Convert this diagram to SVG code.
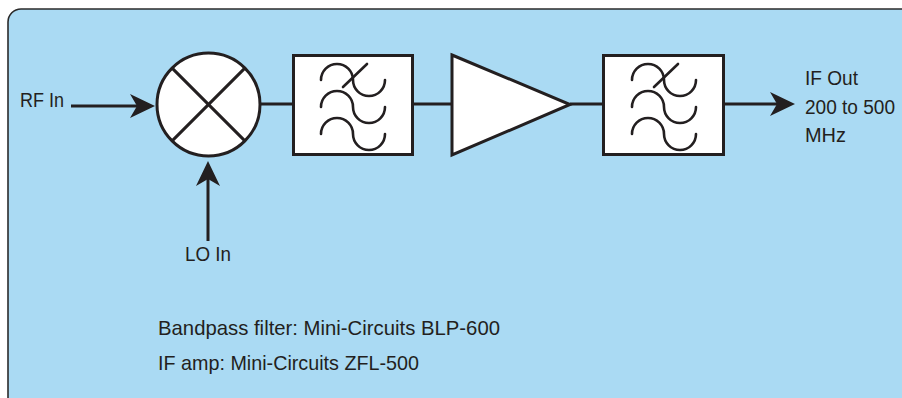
<svg xmlns="http://www.w3.org/2000/svg" width="902" height="398" viewBox="0 0 902 398">
<style>
.panel{fill:#aadaf3;stroke:none}
.border{fill:none;stroke:#2b2b2b;stroke-width:1.6}
.sh{fill:#ffffff;stroke:#231f20;stroke-width:3}
.ln{fill:none;stroke:#231f20;stroke-width:3}
.wv{fill:none;stroke:#231f20;stroke-width:2.6;stroke-linecap:round}
.ah{fill:#231f20;stroke:none}
text{font-family:"Liberation Sans Narrow","Liberation Sans",Arial,sans-serif;fill:#231f20}
.lb{font-size:19.5px}
.nt{font-size:21px}
</style>
<defs>
<g id="waves">
<path class="wv" d="M321,80 A16,16 0 0 1 353,80 A16,16 0 0 0 385,80"/>
<path class="wv" d="M321,107 A16,16 0 0 1 353,107 A16,16 0 0 0 385,107"/>
<path class="wv" d="M321,134 A16,16 0 0 1 353,134 A16,16 0 0 0 385,134"/>
<line class="wv" x1="343" y1="87" x2="367" y2="64"/>
</g>
</defs>
<rect x="0" y="0" width="902" height="398" fill="#ffffff"/>
<path class="panel" d="M8,405 L8,22 A13,13 0 0 1 21,9 L910,9 L910,405 Z"/>
<path class="border" d="M8,405 L8,22 A13,13 0 0 1 21,9 L910,9"/>
<g id="connectors">
<line class="ln" x1="71" y1="106" x2="140" y2="106"/>
<path class="ah" d="M155,106 L130,94 L137,106 L130,118 Z"/>
<line class="ln" x1="208" y1="241" x2="208" y2="176"/>
<path class="ah" d="M208,161 L196,186 L208,179 L220,186 Z"/>
<line class="ln" x1="260" y1="104" x2="293" y2="104"/>
<line class="ln" x1="413" y1="104" x2="452" y2="104"/>
<line class="ln" x1="570" y1="104" x2="603" y2="104"/>
<line class="ln" x1="724" y1="104" x2="780" y2="104"/>
<path class="ah" d="M795,104 L770,92 L777,104 L770,116 Z"/>
</g>
<g id="mixer">
<circle class="sh" cx="208.5" cy="104.5" r="51.5"/>
<line class="ln" x1="172.1" y1="68.1" x2="244.9" y2="140.9"/>
<line class="ln" x1="244.9" y1="68.1" x2="172.1" y2="140.9"/>
</g>
<g id="filter1">
<rect class="sh" x="293.5" y="55.5" width="119" height="99"/>
<use href="#waves"/>
</g>
<g id="amp">
<path class="sh" d="M452,55 L570,104.5 L452,155 Z"/>
</g>
<g id="filter2">
<rect class="sh" x="603.5" y="55.5" width="120" height="99"/>
<use href="#waves" transform="translate(311,0)"/>
</g>
<g id="labels">
<text class="lb" x="20" y="107" textLength="44" lengthAdjust="spacingAndGlyphs">RF In</text>
<text class="lb" x="185" y="261" textLength="46" lengthAdjust="spacingAndGlyphs">LO In</text>
<text class="lb" x="805" y="85" textLength="53" lengthAdjust="spacingAndGlyphs">IF Out</text>
<text class="lb" x="805" y="114" textLength="90" lengthAdjust="spacingAndGlyphs">200 to 500</text>
<text class="lb" x="805" y="142" textLength="41" lengthAdjust="spacingAndGlyphs">MHz</text>
<text class="nt" x="158" y="335" textLength="342" lengthAdjust="spacingAndGlyphs">Bandpass filter: Mini-Circuits BLP-600</text>
<text class="nt" x="158" y="370" textLength="261" lengthAdjust="spacingAndGlyphs">IF amp: Mini-Circuits ZFL-500</text>
</g>
</svg>
